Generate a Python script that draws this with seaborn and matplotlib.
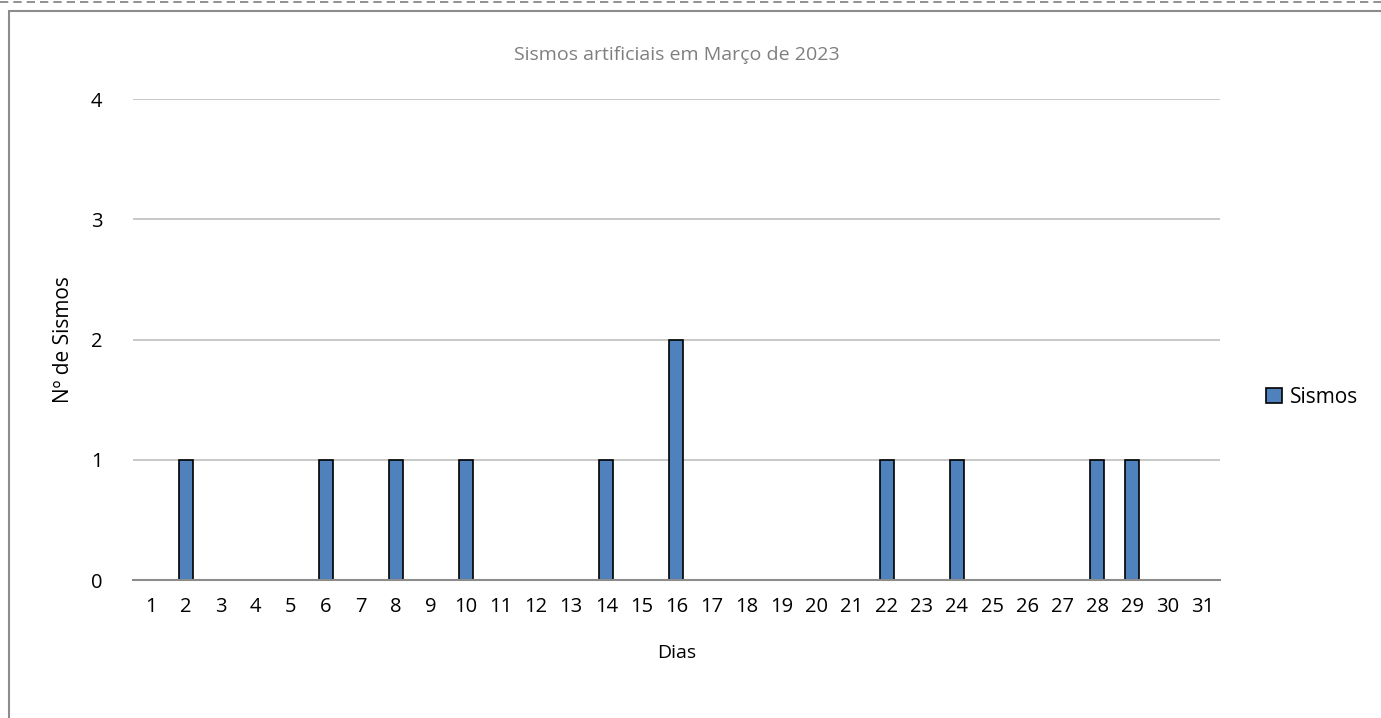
import pandas as pd
import matplotlib.pyplot as plt
import seaborn as sns
from matplotlib.patches import Rectangle
from matplotlib.lines import Line2D

# Sismos artificiais por dia, Março de 2023
dias = list(range(1, 32))
sismos = [0, 1, 0, 0, 0, 1, 0, 1, 0, 1,
          0, 0, 0, 1, 0, 2, 0, 0, 0, 0,
          0, 1, 0, 1, 0, 0, 0, 1, 1, 0,
          0]
y_ticks = [0, 1, 2, 3, 4]

df = pd.DataFrame({'Dias': dias, 'Sismos': sismos})

sns.set_style('white')
plt.rcParams['font.family'] = ['Open Sans', 'DejaVu Sans']
plt.rcParams['text.color'] = 'black'
plt.rcParams['axes.labelcolor'] = 'black'

fig = plt.figure(figsize=(13.81, 7.18), dpi=100)
ax = fig.add_axes([0.0963, 0.1922, 0.7871, 0.6698])

sns.barplot(data=df, x='Dias', y='Sismos', color='#4F81BD', edgecolor='black',
            linewidth=1.2, width=0.4, saturation=1, ax=ax, label='Sismos')

ax.set_ylim(0, 4)
ax.set_yticks(y_ticks)
ax.set_xlim(-0.5, len(dias) - 0.5)
ax.yaxis.grid(True, color='#BFBFBF', linewidth=1.2)
ax.set_axisbelow(True)
for s in ['left', 'right', 'top']:
    ax.spines[s].set_visible(False)
ax.spines['bottom'].set_color('#8C8C8C')
ax.spines['bottom'].set_linewidth(1.5)
ax.tick_params(axis='both', length=0, labelsize=14.5, colors='black')
ax.tick_params(axis='x', pad=12)
ax.tick_params(axis='y', pad=22)

ax.set_xlabel('Dias', fontsize=14, labelpad=20)
ax.set_ylabel('Nº de Sismos', fontsize=15, labelpad=12)
ax.set_title('Sismos artificiais em Março de 2023', fontsize=14, color='#7F7F7F', pad=28)

handle = Rectangle((0, 0), 1, 1, facecolor='#4F81BD', edgecolor='black', linewidth=1.2)
ax.legend([handle], ['Sismos'], loc='center left', bbox_to_anchor=(1.025, 0.38),
          frameon=False, fontsize=15, handlelength=0.75, handleheight=0.75, handletextpad=0.4)

# chart border and dashed page line
fig.patches.append(Rectangle((9 / 1381, -0.1), 1.1, 1 - 11 / 718 + 0.1,
                             transform=fig.transFigure, fill=False,
                             edgecolor='#8C8C8C', linewidth=1.5))
fig.lines.append(Line2D([0, 1], [1 - 2 / 718] * 2, transform=fig.transFigure,
                        color='#7F7F7F', linestyle=(0, (5, 3)), linewidth=1.2))

fig.savefig('out.png', dpi=100)
